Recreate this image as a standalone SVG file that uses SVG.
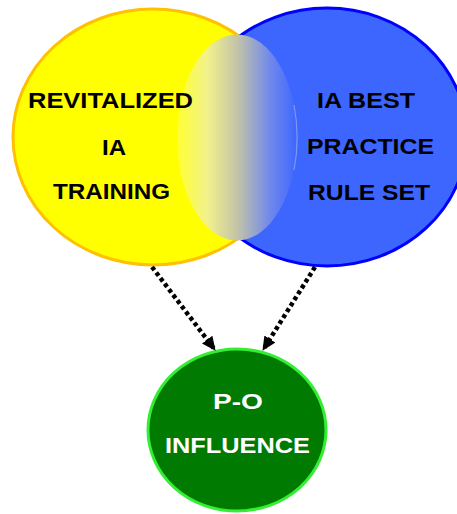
<svg xmlns="http://www.w3.org/2000/svg" width="457" height="514" viewBox="0 0 457 514">
  <style>
    .lbl { font-family: "Liberation Sans", Arial, sans-serif; font-weight: bold; font-size: 22px; text-anchor: middle; fill: #000; }
    .lblw { fill: #ffffff; }
    .conn { stroke: #000; stroke-width: 4.5; stroke-dasharray: 4 3; fill: none; }
  </style>
  <defs>
    <linearGradient id="ovl" x1="0" y1="0" x2="1" y2="0">
      <stop offset="0" stop-color="#FFFF30"/>
      <stop offset="0.25" stop-color="#F2F28C"/>
      <stop offset="0.5" stop-color="#C4C4A8"/>
      <stop offset="0.78" stop-color="#6F88EC"/>
      <stop offset="1" stop-color="#3D66FF"/>
    </linearGradient>
    <marker id="arr" viewBox="0 0 14 13" refX="13" refY="6.5" markerWidth="14" markerHeight="13" markerUnits="userSpaceOnUse" orient="auto">
      <path d="M0,0 L14,6.5 L0,13 z" fill="#000"/>
    </marker>
  </defs>
  <g id="node-training">
    <ellipse cx="153" cy="137" rx="140" ry="128" fill="#FFFF00" stroke="#FFC000" stroke-width="3"/>
  </g>
  <g id="node-ruleset">
    <ellipse cx="327" cy="137" rx="140" ry="129" fill="#3D66FF" stroke="#0000FF" stroke-width="3"/>
  </g>
  <g id="overlap">
    <ellipse cx="237" cy="137.5" rx="60" ry="103" fill="url(#ovl)"/>
    <path d="M294,105 A60,103 0 0 1 294,170" fill="none" stroke="#8FA4F0" stroke-width="1.2" opacity="0.8"/>
  </g>
  <g id="labels-training">
    <text class="lbl" x="110.5" y="108" textLength="165" lengthAdjust="spacingAndGlyphs">REVITALIZED</text>
    <text class="lbl" x="114" y="155" textLength="24" lengthAdjust="spacingAndGlyphs">IA</text>
    <text class="lbl" x="111.5" y="199" textLength="117" lengthAdjust="spacingAndGlyphs">TRAINING</text>
  </g>
  <g id="labels-ruleset">
    <text class="lbl" x="366" y="108" textLength="98" lengthAdjust="spacingAndGlyphs">IA BEST</text>
    <text class="lbl" x="370.5" y="154" textLength="127" lengthAdjust="spacingAndGlyphs">PRACTICE</text>
    <text class="lbl" x="369" y="200" textLength="122" lengthAdjust="spacingAndGlyphs">RULE SET</text>
  </g>
  <g id="node-influence">
    <ellipse cx="237" cy="430" rx="89" ry="81" fill="#007A00" stroke="#33EE33" stroke-width="3"/>
    <text class="lbl lblw" x="238" y="409" textLength="50" lengthAdjust="spacingAndGlyphs">P-O</text>
    <text class="lbl lblw" x="237.5" y="453" textLength="145" lengthAdjust="spacingAndGlyphs">INFLUENCE</text>
  </g>
  <g id="connectors">
    <line class="conn" x1="152" y1="267" x2="215" y2="350" marker-end="url(#arr)"/>
    <line class="conn" x1="315" y1="267" x2="263" y2="350" marker-end="url(#arr)"/>
  </g>
</svg>
